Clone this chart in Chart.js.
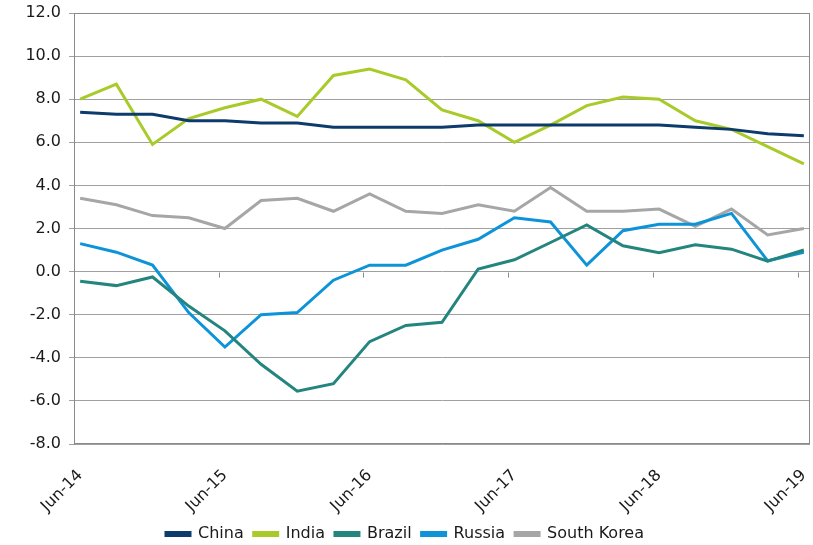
<!DOCTYPE html>
<html>
<head>
<meta charset="utf-8">
<script src="https://cdn.jsdelivr.net/npm/chart.js@4"></script>
<style>
  html, body { margin: 0; padding: 0; background: #fff; }
  #wrap { width: 813px; height: 545px; }
</style>
</head>
<body>
<div id="wrap"><canvas id="gdpChart"></canvas></div>
<script>
// quarterly, real GDP growth y/y (%)
const quarters = ['Jun-14','Sep-14','Dec-14','Mar-15','Jun-15','Sep-15','Dec-15','Mar-16','Jun-16','Sep-16',
  'Dec-16','Mar-17','Jun-17','Sep-17','Dec-17','Mar-18','Jun-18','Sep-18','Dec-18','Mar-19','Jun-19'];
const labelIdx = [0, 4, 8, 12, 16, 20];
const yTicks = [-8, -6, -4, -2, 0, 2, 4, 6, 8, 10, 12];

const china = [7.4, 7.3, 7.3, 7.0, 7.0, 6.9, 6.9, 6.7, 6.7, 6.7, 6.7, 6.8, 6.8, 6.8, 6.8, 6.8, 6.8, 6.7, 6.6, 6.4, 6.3];
const india = [8.0, 8.7, 5.9, 7.1, 7.6, 8.0, 7.2, 9.1, 9.4, 8.9, 7.5, 7.0, 6.0, 6.8, 7.7, 8.1, 8.0, 7.0, 6.6, 5.8, 5.0];
const brazil = [-0.45, -0.65, -0.25, -1.6, -2.75, -4.3, -5.55, -5.2, -3.25, -2.5, -2.35, 0.12, 0.55, 1.35, 2.17, 1.2, 0.88, 1.25, 1.04, 0.48, 1.0];
const russia = [1.3, 0.9, 0.3, -1.9, -3.5, -2.0, -1.9, -0.4, 0.3, 0.3, 1.0, 1.5, 2.5, 2.3, 0.3, 1.9, 2.2, 2.2, 2.7, 0.5, 0.9];
const korea = [3.4, 3.1, 2.6, 2.5, 2.0, 3.3, 3.4, 2.8, 3.6, 2.8, 2.7, 3.1, 2.8, 3.9, 2.8, 2.8, 2.9, 2.1, 2.9, 1.7, 2.0];

const FONT = '"DejaVu Sans", Verdana, sans-serif';
const GRID = '#a0a0a0';

function pts(arr) {
  return arr.map((v, i) => ({ x: i, y: v }));
}

function series(name, arr, color) {
  return {
    label: name,
    data: pts(arr),
    borderColor: color,
    backgroundColor: color,
    borderWidth: 3,
    pointRadius: 0,
    tension: 0
  };
}

// plot frame + small ticks hanging off the zero line
const frame = {
  id: 'frame',
  beforeDatasetsDraw(chart) {
    const { ctx, chartArea: a, scales } = chart;
    ctx.save();
    ctx.strokeStyle = '#8a8a8a';
    ctx.lineWidth = 1;
    ctx.strokeRect(a.left + 0.5, a.top + 0.5, a.right - a.left - 1, a.bottom - a.top - 1);
    const y0 = Math.round(scales.y.getPixelForValue(0)) + 0.5;
    ctx.beginPath();
    labelIdx.slice(1).forEach(i => {
      const x = Math.round(scales.x.getPixelForValue(i - 0.17)) + 0.5;
      ctx.moveTo(x, y0);
      ctx.lineTo(x, y0 + 5);
    });
    ctx.stroke();
    ctx.restore();
  }
};

new Chart(document.getElementById('gdpChart'), {
  type: 'line',
  data: {
    datasets: [
      series('China', china, '#0c3b6c'),
      series('India', india, '#a8cb2a'),
      series('Brazil', brazil, '#24857f'),
      series('Russia', russia, '#0d93d8'),
      series('South Korea', korea, '#a6a6a6')
    ]
  },
  options: {
    responsive: true,
    maintainAspectRatio: false,
    animation: false,
    layout: { padding: { top: 13, right: 3, left: 0, bottom: -7 } },
    scales: {
      x: {
        type: 'linear',
        min: -0.17,
        max: 20.17,
        afterBuildTicks: s => { s.ticks = labelIdx.map(v => ({ value: v })); },
        afterFit: s => { s.height = 72; s.paddingLeft = 0; s.paddingRight = 0; },
        grid: { display: false },
        border: { display: false },
        ticks: {
          autoSkip: false,
          minRotation: 45,
          maxRotation: 45,
          padding: 14,
          color: '#1a1a1a',
          font: { family: FONT, size: 16 },
          callback: v => quarters[v]
        }
      },
      y: {
        min: -8,
        max: 12,
        afterBuildTicks: s => { s.ticks = yTicks.map(v => ({ value: v })); },
        afterFit: s => { s.width = 74; s.paddingTop = 0; s.paddingBottom = 0; },
        grid: { color: GRID, tickLength: 5 },
        border: { color: '#8a8a8a' },
        ticks: {
          padding: 8,
          color: '#1a1a1a',
          font: { family: FONT, size: 16 },
          callback: v => v.toFixed(1)
        }
      }
    },
    plugins: {
      tooltip: { enabled: false },
      legend: {
        position: 'bottom',
        labels: {
          boxWidth: 24,
          boxHeight: 3,
          padding: 10,
          color: '#1a1a1a',
          font: { family: FONT, size: 16 }
        }
      }
    }
  },
  plugins: [frame]
});
</script>
</body>
</html>
